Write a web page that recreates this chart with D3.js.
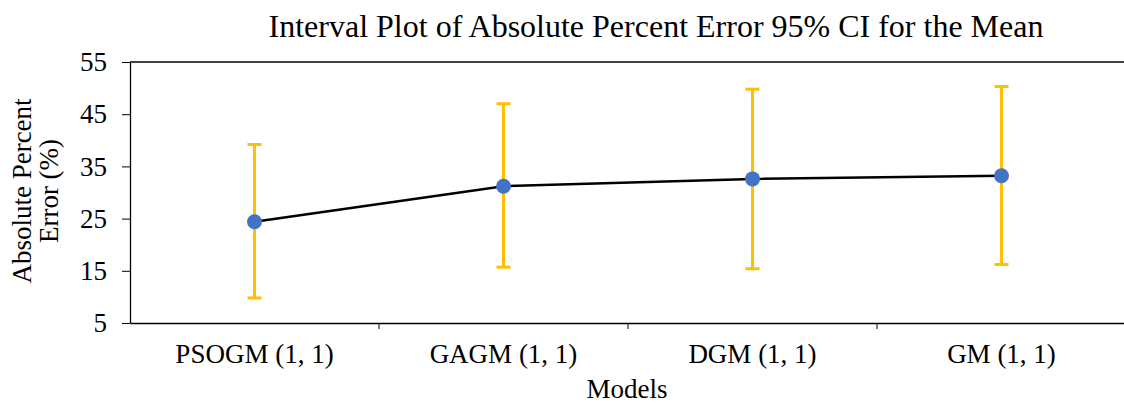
<!DOCTYPE html>
<html>
<head>
<meta charset="utf-8">
<script src="https://cdn.jsdelivr.net/npm/d3@7"></script>
<style>
  body { margin: 0; background: #fff; }
  svg text { font-family: "Liberation Serif", "Times New Roman", serif; }
</style>
</head>
<body>
<svg width="1124" height="405"></svg>
<script>
// chart data
const models = ["PSOGM (1, 1)", "GAGM (1, 1)", "DGM (1, 1)", "GM (1, 1)"]
const meanError = [24.4, 31.2, 32.6, 33.2]
const lowerCI = [9.8, 15.7, 15.4, 16.2]
const upperCI = [39.2, 47.0, 49.8, 50.3]
const yTicks = [5, 15, 25, 35, 45, 55]

const svg = d3.select("svg")
const plotLeft = 130, plotRight = 1126, plotTop = 62, plotBottom = 323

const x = d3.scaleBand().domain(models).range([plotLeft, plotRight])
const y = d3.scaleLinear().domain([5, 55]).range([plotBottom, plotTop])

// top border line
svg.append("line")
  .attr("x1", plotLeft).attr("x2", 1124)
  .attr("y1", y(55)).attr("y2", y(55))
  .attr("stroke", "#000").attr("stroke-width", 1.3)

const yAxis = svg.append("g")
  .attr("transform", `translate(${plotLeft},0)`)
  .call(d3.axisLeft(y).tickValues(yTicks).tickSize(8).tickSizeOuter(0).tickPadding(15))
yAxis.select(".domain").attr("stroke-width", 1.3)
yAxis.selectAll("text")
  .style("font-size", "27px")
  .style("font-family", "'Liberation Serif', serif")
  .attr("fill", "#000")

const xAxis = svg.append("g")
  .attr("transform", `translate(0,${plotBottom})`)
  .call(d3.axisBottom(x).tickSize(0).tickSizeOuter(0).tickPadding(21))
xAxis.select(".domain").attr("stroke-width", 1.3)
xAxis.selectAll("text")
  .style("font-size", "27px")
  .style("font-family", "'Liberation Serif', serif")
  .attr("fill", "#000")

// category boundary ticks
xAxis.selectAll(".sep")
  .data(models.slice(1))
  .enter().append("line")
  .attr("x1", d => x(d)).attr("x2", d => x(d))
  .attr("y1", 0).attr("y2", 6)
  .attr("stroke", "#000")

const cx = d => x(d) + x.bandwidth() / 2

// error bars
const bars = svg.append("g").selectAll("g")
  .data(models)
  .enter().append("g")
  .attr("stroke", "#FFC000").attr("stroke-width", 3)

bars.append("line")
  .attr("x1", cx).attr("x2", cx)
  .attr("y1", (d, i) => y(lowerCI[i])).attr("y2", (d, i) => y(upperCI[i]))
bars.append("line")
  .attr("x1", d => cx(d) - 7).attr("x2", d => cx(d) + 7)
  .attr("y1", (d, i) => y(upperCI[i])).attr("y2", (d, i) => y(upperCI[i]))
bars.append("line")
  .attr("x1", d => cx(d) - 7).attr("x2", d => cx(d) + 7)
  .attr("y1", (d, i) => y(lowerCI[i])).attr("y2", (d, i) => y(lowerCI[i]))

// mean line
const line = d3.line()
  .x((d, i) => cx(models[i]))
  .y(d => y(d))

svg.append("path")
  .datum(meanError)
  .attr("d", line)
  .attr("fill", "none")
  .attr("stroke", "#000")
  .attr("stroke-width", 2.5)

svg.append("g").selectAll("circle")
  .data(meanError)
  .enter().append("circle")
  .attr("cx", (d, i) => cx(models[i]))
  .attr("cy", d => y(d))
  .attr("r", 7.5)
  .attr("fill", "#4472C4")

// titles
svg.append("text")
  .attr("x", 656).attr("y", 37)
  .attr("text-anchor", "middle")
  .style("font-size", "32px")
  .text("Interval Plot of Absolute Percent Error 95% CI for the Mean")

svg.append("text")
  .attr("x", 627).attr("y", 398)
  .attr("text-anchor", "middle")
  .style("font-size", "27px")
  .text("Models")

const yLab = svg.append("text")
  .attr("transform", "translate(31,191) rotate(-90)")
  .attr("text-anchor", "middle")
  .style("font-size", "27px")
yLab.append("tspan").attr("x", 0).attr("dy", 0).text("Absolute Percent")
yLab.append("tspan").attr("x", 0).attr("dy", 27).text("Error (%)")
</script>
</body>
</html>
